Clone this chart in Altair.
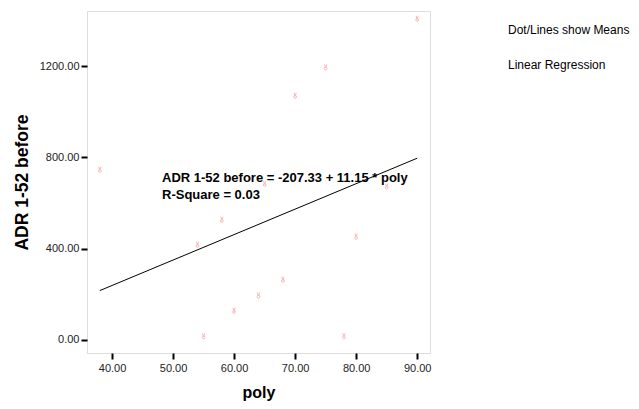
import altair as alt
import pandas as pd

poly = [90, 75, 70, 38, 65, 85, 58, 54, 80, 68, 64, 60, 55, 78]
adr = [1406, 1193, 1069, 745, 683, 671, 526, 416, 452, 263, 194, 127, 15, 15]

reg_x = [38, 90]
intercept = -207.33
slope = 11.15
reg_y = [intercept + slope * v for v in reg_x]

x_ticks = [40, 50, 60, 70, 80, 90]
y_ticks = [0, 400, 800, 1200]

eq_lines = ["ADR 1-52 before = -207.33 + 11.15 * poly", "R-Square = 0.03"]
legend_lines = ["Dot/Lines show Means", "Linear Regression"]

FONT = "Liberation Sans"

pts = pd.DataFrame({"poly": poly, "adr": adr})
reg = pd.DataFrame({"poly": reg_x, "adr": reg_y})

xs = alt.Scale(domain=[35.9, 92.1], nice=False, zero=False)
ys = alt.Scale(domain=[-57, 1441], nice=False, zero=False)

x_axis = alt.Axis(values=x_ticks, format=".2f", title="poly", grid=False, domain=False,
                  tickColor="black", tickWidth=2, tickSize=6, labelFont=FONT, labelFontSize=11,
                  labelColor="#222", labelPadding=3, titleFont=FONT, titleFontSize=16,
                  titleFontWeight="bold", titleColor="black", titlePadding=11)
y_axis = alt.Axis(values=y_ticks, format=".2f", title="ADR 1-52 before", grid=False, domain=False,
                  tickColor="black", tickWidth=2, tickSize=6, labelFont=FONT, labelFontSize=11,
                  labelColor="#222", labelPadding=2, titleFont=FONT, titleFontSize=17.5,
                  titleFontWeight="bold", titleColor="black", titlePadding=8)

marker = "M-0.35,-1 L0,0.1 L0.35,-1 M-0.45,0.3 A0.45,0.45 0 1 0 0.45,0.3 A0.45,0.45 0 1 0 -0.45,0.3"

points = alt.Chart(pts).mark_point(shape=marker, size=40, color="#f29a9a", strokeWidth=1, filled=False).encode(
    x=alt.X("poly:Q", scale=xs, axis=x_axis),
    y=alt.Y("adr:Q", scale=ys, axis=y_axis),
)

line = alt.Chart(reg).mark_line(color="black", strokeWidth=1).encode(
    x=alt.X("poly:Q", scale=xs, axis=x_axis),
    y=alt.Y("adr:Q", scale=ys, axis=y_axis),
)

texts = []
for t, yy in zip(eq_lines, [167, 184]):
    texts.append(alt.Chart(pd.DataFrame({"t": [t]})).mark_text(
        align="left", baseline="middle", font=FONT, fontSize=13, fontWeight="bold", color="black"
    ).encode(text="t:N", x=alt.value(75), y=alt.value(yy)))
for t, yy in zip(legend_lines, [19, 54]):
    texts.append(alt.Chart(pd.DataFrame({"t": [t]})).mark_text(
        align="left", baseline="middle", font=FONT, fontSize=12, color="black"
    ).encode(text="t:N", x=alt.value(421), y=alt.value(yy)))

chart = alt.layer(line, points, *texts).properties(
    width=343, height=342,
    autosize=alt.AutoSizeParams(type="none"),
    padding={"left": 79, "top": 3, "right": 201, "bottom": 48},
).configure_view(stroke="#888", strokeWidth=1).configure(background="white")

chart.save("out.html", embed_options={"renderer": "svg", "actions": False})
